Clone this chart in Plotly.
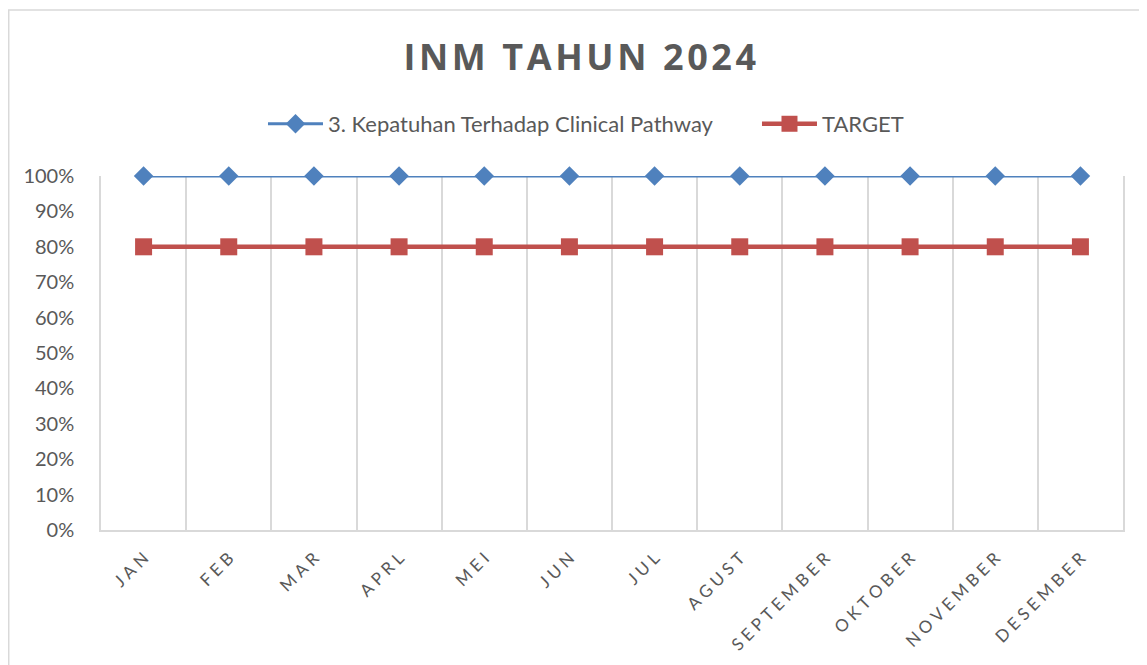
import plotly.graph_objects as go

months = ["JAN", "FEB", "MAR", "APRL", "MEI", "JUN", "JUL", "AGUST",
          "SEPTEMBER", "OKTOBER", "NOVEMBER", "DESEMBER"]
kepatuhan = [1.0, 1.0, 1.0, 1.0, 1.0, 1.0, 1.0, 1.0, 1.0, 1.0, 1.0, 1.0]
target = [0.8, 0.8, 0.8, 0.8, 0.8, 0.8, 0.8, 0.8, 0.8, 0.8, 0.8, 0.8]
series_names = ["3. Kepatuhan Terhadap Clinical Pathway", "TARGET"]
title_text = "INM TAHUN 2024"

def spaced(s, sep="\u2009"):
    return sep.join(list(s))

labels = [spaced(m, "\u2005") for m in months]

fig = go.Figure()
fig.add_trace(go.Scatter(
    x=labels, y=kepatuhan, name=series_names[0], mode="lines+markers",
    line=dict(color="#4F81BD", width=3),
    marker=dict(symbol="diamond", size=15, color="#4F81BD"),
    cliponaxis=False,
))
fig.add_trace(go.Scatter(
    x=labels, y=target, name=series_names[1], mode="lines+markers",
    line=dict(color="#C0504D", width=4.5),
    marker=dict(symbol="square", size=17, color="#C0504D"),
    cliponaxis=False,
))

fig.update_layout(
    width=1139, height=657,
    paper_bgcolor="white", plot_bgcolor="white",
    margin=dict(l=93, r=24, t=168, b=135, autoexpand=False),
    font=dict(family="Lato, 'Open Sans', sans-serif", color="#595959"),
    title=dict(text="<b>" + spaced(title_text, "\u200a") + "</b>",
               x=0.502, xanchor="center", y=0.925, yanchor="middle",
               font=dict(size=36, color="#595959", family="'Open Sans', Lato, sans-serif")),
    legend=dict(orientation="h", x=0.1585, xanchor="left", y=1.147, yanchor="middle",
                font=dict(size=22, color="#595959"), itemwidth=55,
                entrywidth=424, entrywidthmode="pixels",
                traceorder="normal"),
    showlegend=True,
)
fig.update_xaxes(
    type="category", tickson="boundaries", showgrid=True, gridcolor="#D9D9D9",
    gridwidth=1.5, showline=True, linecolor="#D9D9D9", linewidth=1.5,
    ticks="", tickangle=-45, tickfont=dict(size=17, color="#595959"),
    ticklabelstandoff=10,
    range=[-0.5, 11.5], automargin=False,
)
fig.update_yaxes(
    range=[0, 1], dtick=0.1, tickformat=".0%", showgrid=False,
    showline=True, linecolor="#D9D9D9", linewidth=1.5, mirror=True,
    zeroline=False, ticks="", tickfont=dict(size=20, color="#595959"),
    ticklabelstandoff=21, automargin=False,
)
fig.add_shape(type="rect", xref="paper", yref="paper",
              x0=-0.0903, x1=1.0225, y0=-0.40, y1=1.469,
              line=dict(color="#D9D9D9", width=1.5), layer="below")

fig.write_html("out.html")
